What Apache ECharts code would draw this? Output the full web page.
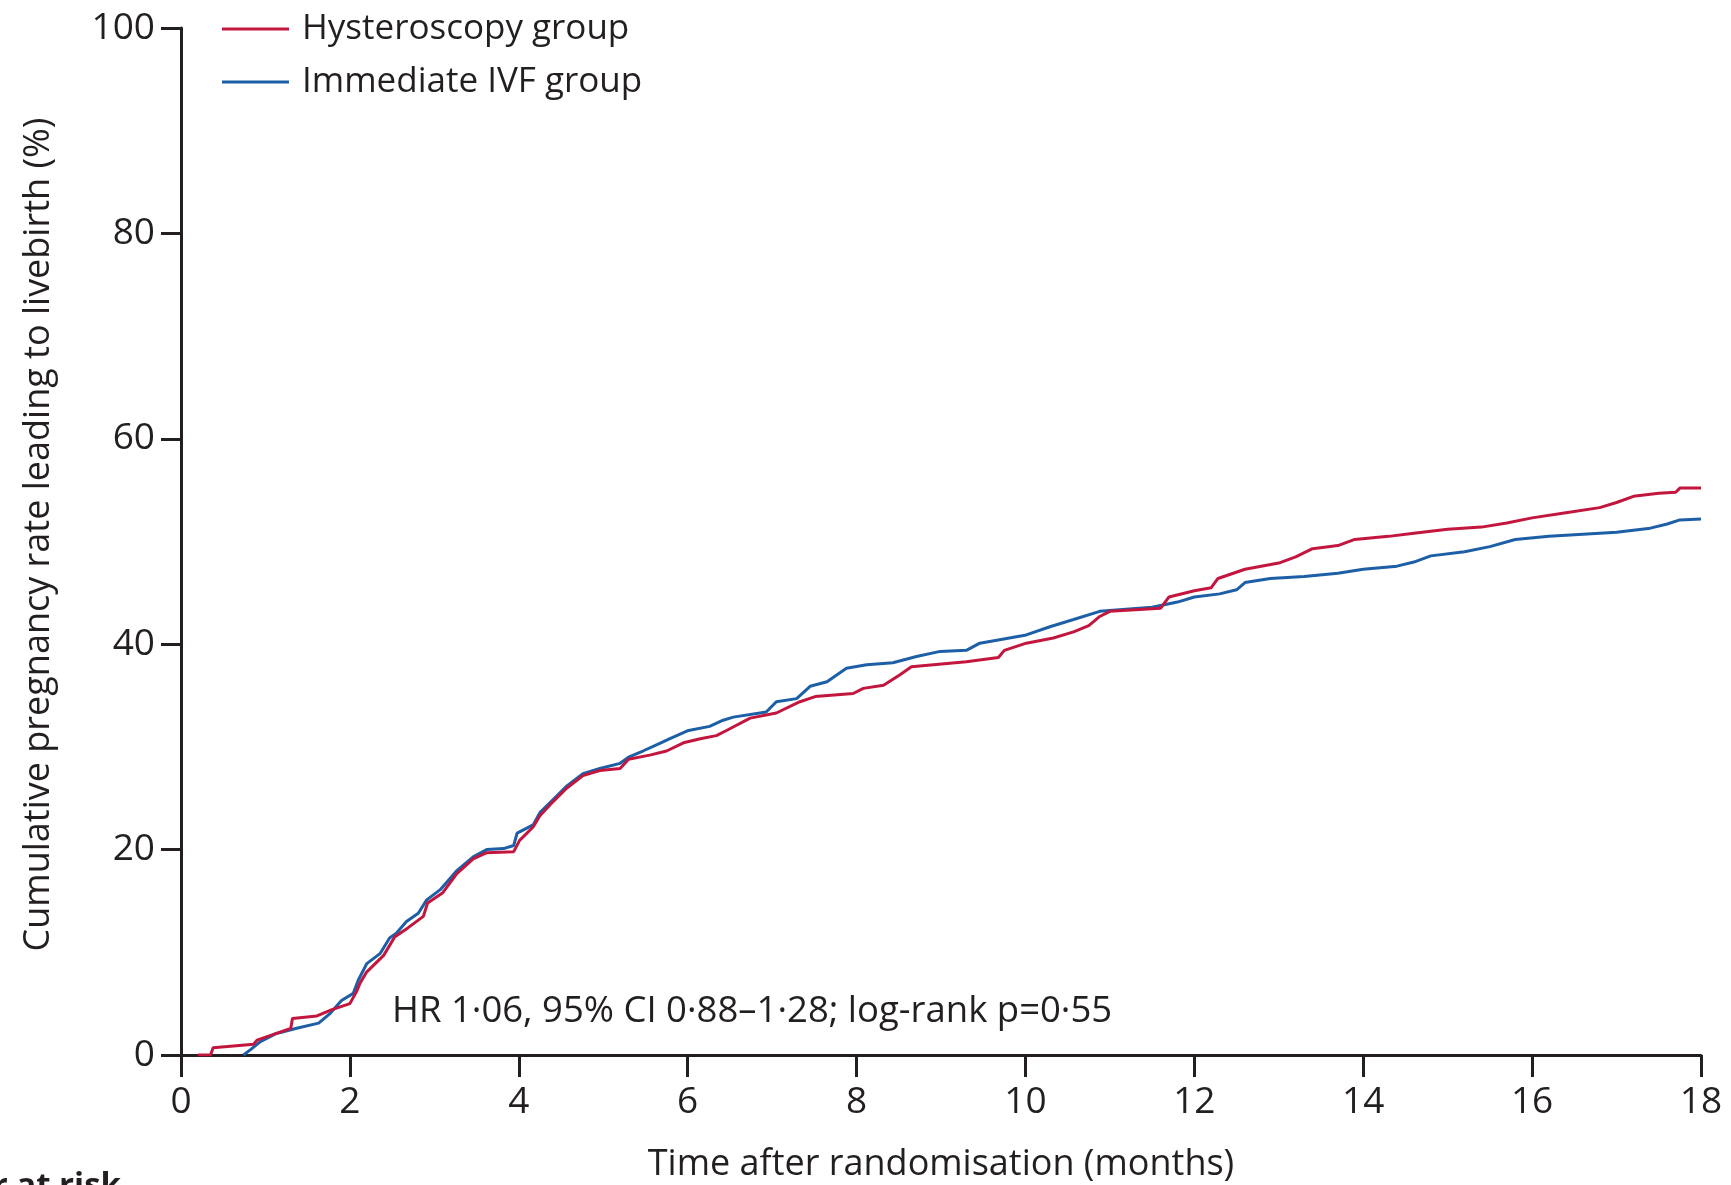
<!DOCTYPE html>
<html>
<head>
<meta charset="utf-8">
<script src="https://cdn.jsdelivr.net/npm/echarts@6/dist/echarts.min.js"></script>
<style>
    html, body { margin: 0; padding: 0; background: #ffffff; }
    #chart { width: 1731px; height: 1185px; }
</style>
</head>
<body>
<div id="chart"></div>
<script>
    // Kaplan-Meier style curves (months, cumulative %)
    var hystMonths = [0.2, 0.35, 0.38, 0.86, 0.9, 1.13, 1.3, 1.32, 1.61, 1.78, 2.0, 2.08, 2.12, 2.2, 2.4, 2.53, 2.69, 2.87, 2.92, 3.1,
        3.26, 3.46, 3.62, 3.94, 4.01, 4.17, 4.25, 4.41, 4.57, 4.76, 4.96, 5.2, 5.3, 5.55, 5.75, 5.95, 6.15, 6.34, 6.46, 6.74,
        7.05, 7.33, 7.51, 7.96, 8.08, 8.32, 8.51, 8.65, 9.3, 9.68, 9.75, 10.01, 10.33, 10.57, 10.75, 10.88, 11.0, 11.6, 11.7, 12.0,
        12.2, 12.28, 12.6, 13.0, 13.2, 13.4, 13.7, 13.9, 14.3, 14.6, 15.0, 15.4, 15.7, 16.0, 16.4, 16.8, 17.0, 17.2, 17.5, 17.7,
        17.75, 18.0];
    var hystRate = [0, 0, 0.7, 1.05, 1.45, 2.1, 2.6, 3.55, 3.8, 4.4, 5.0, 6.2, 7.0, 8.1, 9.7, 11.5, 12.4, 13.5, 14.8, 15.8,
        17.6, 19.1, 19.7, 19.8, 20.9, 22.2, 23.3, 24.7, 26.0, 27.2, 27.7, 27.9, 28.8, 29.2, 29.6, 30.4, 30.8, 31.1, 31.6, 32.8,
        33.3, 34.4, 34.9, 35.2, 35.7, 36.0, 37.0, 37.8, 38.3, 38.7, 39.4, 40.1, 40.6, 41.2, 41.8, 42.7, 43.2, 43.5, 44.6, 45.2,
        45.5, 46.4, 47.3, 47.9, 48.5, 49.3, 49.6, 50.2, 50.5, 50.8, 51.2, 51.4, 51.8, 52.3, 52.8, 53.3, 53.8, 54.4, 54.7, 54.8,
        55.2, 55.2];

    var ivfMonths = [0.74, 0.82, 0.94, 1.13, 1.37, 1.63, 1.76, 1.9, 2.04, 2.1, 2.2, 2.36, 2.47, 2.55, 2.67, 2.81, 2.91, 3.07, 3.26, 3.46,
        3.62, 3.82, 3.94, 3.98, 4.17, 4.25, 4.41, 4.57, 4.76, 4.96, 5.2, 5.3, 5.47, 5.67, 5.79, 6.01, 6.26, 6.42, 6.54, 6.93,
        7.05, 7.29, 7.45, 7.65, 7.88, 8.12, 8.43, 8.71, 8.99, 9.3, 9.46, 10.01, 10.29, 10.57, 10.88, 11.5, 11.8, 12.0, 12.3, 12.5,
        12.6, 12.9, 13.3, 13.7, 14.0, 14.4, 14.6, 14.8, 15.2, 15.5, 15.8, 16.2, 16.6, 17.0, 17.4, 17.6, 17.75, 18.0];
    var ivfRate = [0, 0.5, 1.3, 2.1, 2.6, 3.1, 4.0, 5.3, 6.0, 7.3, 8.9, 9.9, 11.4, 11.85, 13.0, 13.8, 15.1, 16.1, 17.9, 19.3,
        20.0, 20.1, 20.4, 21.6, 22.4, 23.6, 24.9, 26.2, 27.4, 27.9, 28.4, 29.0, 29.6, 30.35, 30.8, 31.6, 32.0, 32.6, 32.9, 33.4,
        34.4, 34.7, 35.9, 36.35, 37.65, 38.0, 38.2, 38.8, 39.3, 39.4, 40.1, 40.9, 41.7, 42.4, 43.2, 43.6, 44.1, 44.6, 44.9, 45.3,
        46.0, 46.4, 46.6, 46.9, 47.3, 47.6, 48.0, 48.6, 49.0, 49.5, 50.2, 50.5, 50.7, 50.9, 51.3, 51.7, 52.1, 52.2];

    var groupNames = ['Hysteroscopy group', 'Immediate IVF group'];
    var xTicks = [0, 2, 4, 6, 8, 10, 12, 14, 16, 18];
    var yTicks = [0, 20, 40, 60, 80, 100];
    var annotation = 'HR 1\u00b706, 95% CI 0\u00b788\u20131\u00b728; log-rank p=0\u00b755';

    var ink = '#231f20';
    var font = 'Open Sans';

    function pairs(xs, ys) {
        var out = [];
        for (var i = 0; i < xs.length; i++) {
            out.push([xs[i], ys[i]]);
        }
        return out;
    }

    var option = {
        animation: false,
        textStyle: { fontFamily: font, color: ink },
        grid: { left: 181, right: 30, top: 28, bottom: 130, outerBoundsMode: 'none' },
        legend: {
            data: groupNames,
            orient: 'vertical',
            left: 222,
            top: 8,
            padding: 0,
            icon: 'rect',
            itemWidth: 67,
            itemHeight: 3,
            itemGap: 11,
            textStyle: { fontFamily: font, fontSize: 35, color: ink, lineHeight: 42, padding: [0, 0, 0, 8] }
        },
        xAxis: {
            type: 'value',
            min: xTicks[0],
            max: xTicks[xTicks.length - 1],
            interval: 2,
            name: 'Time after randomisation (months)',
            nameLocation: 'middle',
            nameGap: 92,
            nameTextStyle: { fontSize: 36, color: ink, fontFamily: font },
            axisLine: { show: true, lineStyle: { color: ink, width: 3 } },
            axisTick: { show: true, length: 22, lineStyle: { color: ink, width: 3 } },
            axisLabel: { fontSize: 37, color: ink, margin: 29, fontFamily: font },
            splitLine: { show: false }
        },
        yAxis: {
            type: 'value',
            min: yTicks[0],
            max: yTicks[yTicks.length - 1],
            interval: 20,
            name: 'Cumulative pregnancy rate leading to livebirth (%)',
            nameLocation: 'middle',
            nameGap: 124,
            nameTextStyle: { fontSize: 36, color: ink, fontFamily: font, padding: [0, 0, 0, 14] },
            axisLine: { show: true, lineStyle: { color: ink, width: 3 } },
            axisTick: { show: true, length: 20, lineStyle: { color: ink, width: 3 } },
            axisLabel: { fontSize: 37, color: ink, margin: 26, fontFamily: font },
            splitLine: { show: false }
        },
        series: [
            {
                name: groupNames[0],
                type: 'line',
                data: pairs(hystMonths, hystRate),
                showSymbol: false,
                color: '#c3163f',
                lineStyle: { width: 3, color: '#c3163f' },
                z: 3
            },
            {
                name: groupNames[1],
                type: 'line',
                data: pairs(ivfMonths, ivfRate),
                showSymbol: false,
                color: '#1d5fa6',
                lineStyle: { width: 3, color: '#1d5fa6' },
                z: 2
            }
        ],
        graphic: [
            {
                type: 'text',
                left: 392,
                top: 993,
                style: { text: annotation, font: '36.5px "Open Sans"', fill: ink }
            },
            {
                type: 'text',
                x: 121,
                y: 1170,
                style: { text: 'Number at risk', font: 'bold 33px "Open Sans"', fill: ink, align: 'right', verticalAlign: 'top' }
            }
        ]
    };

    var myChart = echarts.init(document.getElementById('chart'));
    myChart.setOption(option);
</script>
</body>
</html>
